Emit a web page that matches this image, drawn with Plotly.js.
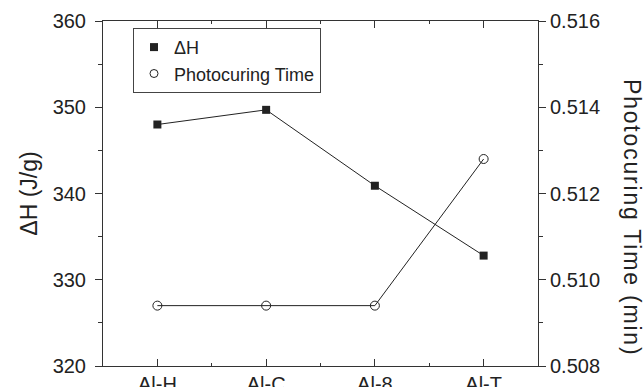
<!DOCTYPE html>
<html>
<head>
<meta charset="utf-8">
<script src="https://cdn.plot.ly/plotly-3.0.1.min.js"></script>
<style>
  html, body { margin: 0; padding: 0; background: #fff; }
  #chart { width: 644px; height: 387px; }
</style>
</head>
<body>
<div id="chart"></div>
<script>
const categories = ["Al-H", "Al-C", "Al-8", "Al-T"];
const deltaH = [348.0, 349.7, 340.9, 332.8];
const photocuringTime = [0.5094, 0.5094, 0.5094, 0.5128];
const seriesNames = ["\u0394H", "Photocuring Time"];
const leftTitle = "\u0394H (J/g)";
const rightTitle = "Photocuring Time (min)";

const xIdx = categories.map((_, i) => i);
const FONT = "Liberation Sans, Arial, sans-serif";
const INK = "#222";

const traces = [
  {
    x: xIdx, y: deltaH, yaxis: "y", mode: "lines+markers", showlegend: false,
    line: { color: INK, width: 1 },
    marker: { symbol: "square", size: 8, color: INK }
  },
  {
    x: xIdx, y: photocuringTime, yaxis: "y2", mode: "lines+markers", showlegend: false,
    line: { color: INK, width: 1 },
    marker: { symbol: "circle-open", size: 9, color: INK, line: { width: 1, color: INK } }
  },
  {
    x: [null], y: [null], yaxis: "y", mode: "markers", name: seriesNames[0],
    marker: { symbol: "square", size: 8, color: INK }
  },
  {
    x: [null], y: [null], yaxis: "y", mode: "markers", name: seriesNames[1],
    marker: { symbol: "circle-open", size: 8, color: INK, line: { width: 1, color: INK } }
  }
];

const layout = {
  width: 644, height: 387,
  margin: { l: 103, r: 106, t: 21, b: 21 },
  paper_bgcolor: "#fff", plot_bgcolor: "#fff",
  font: { family: FONT, color: INK, size: 18 },
  showlegend: true,
  legend: {
    x: 0.069, y: 0.98, xanchor: "left", yanchor: "top",
    bordercolor: "#444", borderwidth: 1, bgcolor: "#fff",
    font: { family: FONT, size: 18, color: INK },
    tracegroupgap: 0, itemwidth: 30
  },
  xaxis: {
    range: [-0.5, 3.5], tickmode: "array", tickvals: xIdx, ticktext: categories,
    showline: true, linecolor: "#333", linewidth: 1, mirror: "ticks",
    ticks: "inside", ticklen: 7, tickcolor: "#333", showgrid: false, zeroline: false,
    tickfont: { family: FONT, size: 20, color: INK },
    minor: { tick0: 0, dtick: 0.5, ticks: "inside", ticklen: 3, tickcolor: "#333", showgrid: false }
  },
  yaxis: {
    range: [320, 360], dtick: 10, tick0: 320,
    showline: true, linecolor: "#333", linewidth: 1,
    ticks: "outside", ticklen: 7, tickcolor: "#333", showgrid: false, zeroline: false,
    ticklabelstandoff: 5,
    tickfont: { family: FONT, size: 20, color: INK },
    minor: { dtick: 5, ticks: "outside", ticklen: 4, tickcolor: "#333", showgrid: false }
  },
  yaxis2: {
    overlaying: "y", side: "right", anchor: "x",
    range: [0.508, 0.516], dtick: 0.002, tick0: 0.508, tickformat: ".3f",
    showline: true, linecolor: "#333", linewidth: 1,
    ticks: "outside", ticklen: 7, tickcolor: "#333", showgrid: false, zeroline: false,
    tickfont: { family: FONT, size: 20, color: INK },
    minor: { dtick: 0.001, ticks: "outside", ticklen: 4, tickcolor: "#333", showgrid: false }
  },
  annotations: [
    {
      text: leftTitle, xref: "paper", yref: "paper", x: -0.172, y: 0.5,
      xanchor: "center", yanchor: "middle", textangle: -90, showarrow: false,
      font: { family: FONT, size: 23, color: INK }
    },
    {
      text: rightTitle, xref: "paper", yref: "paper", x: 1.218, y: 0.43,
      xanchor: "center", yanchor: "middle", textangle: 90, showarrow: false,
      font: { family: FONT, size: 23, color: INK }
    }
  ]
};

Plotly.newPlot("chart", traces, layout, { displayModeBar: false, staticPlot: true }).then(gd => {
  const ann = gd.querySelectorAll(".annotation-text");
  if (ann[1]) ann[1].style.letterSpacing = "1.8px";
});
</script>
</body>
</html>
